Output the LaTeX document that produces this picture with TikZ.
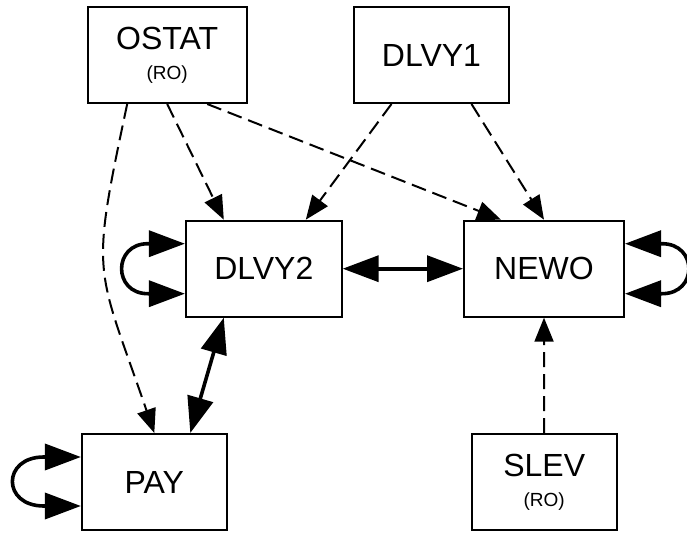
\documentclass[tikz,border=0pt]{standalone}
\usepackage{fontspec}
\setmainfont{Liberation Sans}
\usetikzlibrary{arrows.meta}

\tikzstyle{table} = [draw, line width=1pt, minimum height=48pt, align=center, font=\fontsize{16}{15}\selectfont]
\tikzstyle{dep} = [dash pattern=on 7.5pt off 3.5pt, line width=1pt, ->, >={Triangle[length=12pt,width=9.5pt]}]
\tikzstyle{conf} = [line width=1.8pt, <->, >={Triangle[length=18pt,width=13pt]}]
\newcommand{\rolabel}{\\{\fontsize{9.5}{10}\selectfont (RO)}}

\begin{document}
\begin{tikzpicture}[x=0.5pt, y=0.5pt]
		%\draw[help lines] (0,0) grid[step=50] (687,532);
		\useasboundingbox (0,0) rectangle (687,532);
		\foreach \n/\x/\y/\w/\t in {OSTAT/167.2/477/79.5pt/{OSTAT\rolabel}, DLVY1/431.5/477/77.5pt/DLVY1, DLVY2/263.8/263.3/77.9pt/DLVY2, NEWO/544/263.3/80pt/NEWO, PAY/154.3/50/72.4pt/PAY, SLEV/544.2/50/72.5pt/{SLEV\rolabel}}
		\node[table, minimum width=\w] (\n) at (\x,\y) {\t};
		% read dependencies
		\draw[dep] ([xshift=-20pt]OSTAT.south) to[out=258, in=109, looseness=1.4] (PAY.north);
		\draw[dep] (OSTAT.south) -- ([xshift=-20pt]DLVY2.north);
		\draw[dep] ([xshift=20pt]OSTAT.south) -- ([xshift=-21.5pt]NEWO.north);
		\draw[dep] ([xshift=-20pt]DLVY1.south) -- ([xshift=21pt]DLVY2.north);
		\draw[dep] ([xshift=20pt]DLVY1.south) -- (NEWO.north);
		\draw[dep] (SLEV.north) -- (NEWO.south);
		% conflicts
		\draw[conf] (DLVY2.east) -- (NEWO.west);
		\draw[conf] ([xshift=18pt]PAY.north) -- ([xshift=-20pt]DLVY2.south);
		\draw[conf] ([yshift=12.5pt]DLVY2.west) -- ++(-37,0) to[out=180, in=180, looseness=1.8] ++(0,-50) -- ([yshift=-12.5pt]DLVY2.west);
		\draw[conf] ([yshift=12.5pt]NEWO.east) -- ++(37,0) to[out=0, in=0, looseness=1.84] ++(0,-50) -- ([yshift=-12.5pt]NEWO.east);
		\draw[conf] ([yshift=12.5pt]PAY.west) -- ++(-37,0) to[out=180, in=180, looseness=2.2] ++(0,-49) -- ([yshift=-12pt]PAY.west);
\end{tikzpicture}
\end{document}
